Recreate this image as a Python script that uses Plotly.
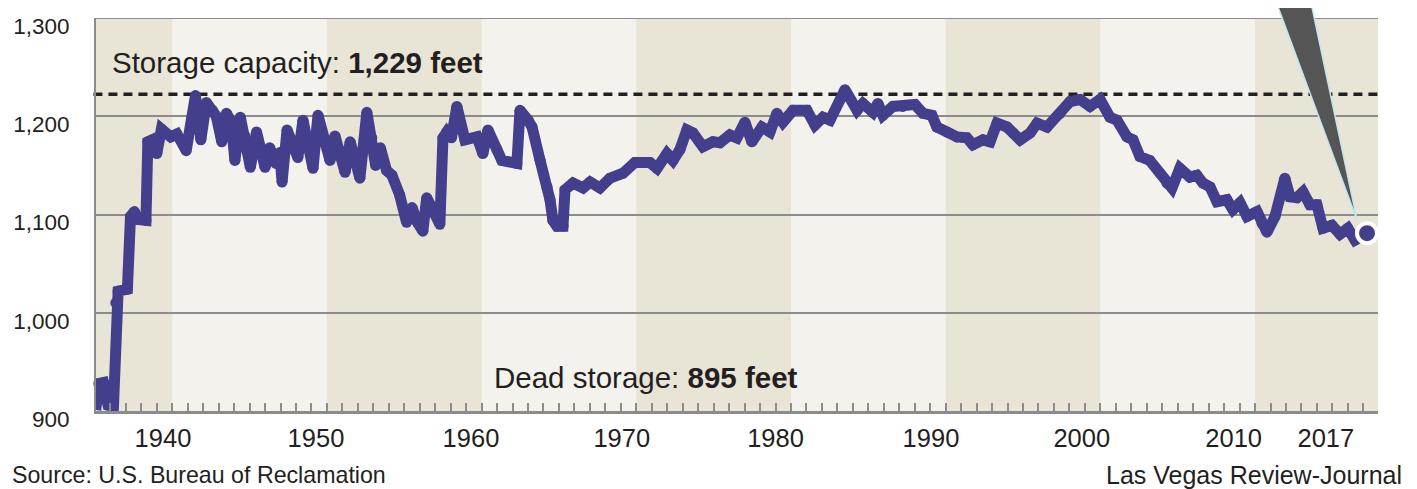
import plotly.graph_objects as go

# ---- data: Lake Mead elevation (feet) ----
years = [
    1935.05, 1935.25, 1935.55, 1935.85, 1936.20, 1936.35, 1936.50, 1937.10, 1937.30, 1937.55,
    1937.75, 1938.30, 1938.42, 1938.70, 1939.00, 1939.30, 1939.90, 1940.30, 1940.90, 1941.50,
    1941.85, 1942.20, 1942.60, 1942.85, 1943.20, 1943.50, 1943.80, 1944.05, 1944.40, 1944.70,
    1945.05, 1945.45, 1946.00, 1946.30, 1946.70, 1946.95, 1947.10, 1947.42, 1948.12, 1948.45,
    1949.10, 1949.42, 1950.20, 1950.52, 1951.17, 1951.50, 1952.13, 1952.58, 1952.90, 1953.15,
    1953.45, 1953.85, 1954.20, 1954.70, 1955.15, 1955.50, 1955.85, 1956.20, 1956.45, 1956.85,
    1957.30, 1957.50, 1957.75, 1958.05, 1958.40, 1958.92, 1959.70, 1960.08, 1960.41, 1960.99,
    1961.31, 1962.28, 1962.48, 1963.00, 1963.26, 1963.78, 1964.23, 1964.42, 1964.61, 1964.87,
    1965.26, 1965.39, 1965.91, 1966.56, 1967.01, 1967.65, 1968.30, 1969.14, 1969.91, 1970.88,
    1971.34, 1971.98, 1972.37, 1972.82, 1973.27, 1973.66, 1974.31, 1974.95, 1975.41, 1976.05,
    1976.50, 1977.02, 1977.47, 1978.12, 1978.64, 1979.09, 1979.48, 1980.13, 1981.03, 1981.55,
    1982.07, 1982.52, 1983.49, 1984.27, 1984.65, 1985.30, 1985.62, 1985.94, 1986.59, 1987.23,
    1988.01, 1988.53, 1989.11, 1989.43, 1990.08, 1990.73, 1991.37, 1991.76, 1992.41, 1992.87,
    1993.32, 1993.97, 1994.36, 1994.81, 1995.46, 1995.91, 1996.55, 1997.39, 1998.04, 1998.69,
    1999.33, 1999.98, 2000.62, 2001.07, 2001.72, 2002.11, 2002.56, 2003.20, 2003.85, 2004.30,
    2004.63, 2005.14, 2005.79, 2006.24, 2006.63, 2007.09, 2007.54, 2008.18, 2008.57, 2009.03,
    2009.48, 2010.13, 2010.45, 2010.77, 2011.29, 2011.93, 2012.26, 2012.71, 2013.10, 2013.55,
    2014.00, 2014.39, 2014.97, 2015.49, 2016.00, 2016.46, 2017.24,
]
levels = [
    901, 928, 929, 906, 905, 1010, 1022, 1024, 1098, 1103,
    1095, 1094, 1174, 1176, 1162, 1187, 1179, 1182, 1165, 1221,
    1176, 1214, 1206, 1200, 1174, 1203, 1195, 1155, 1199, 1180,
    1148, 1184, 1148, 1168, 1152, 1163, 1133, 1186, 1158, 1196,
    1147, 1201, 1155, 1180, 1143, 1174, 1137, 1204, 1178, 1150,
    1168, 1145, 1140, 1120, 1092, 1107, 1092, 1083, 1117, 1103,
    1090, 1178, 1184, 1178, 1210, 1176, 1179, 1162, 1186, 1166,
    1155, 1152, 1206, 1196, 1189, 1155, 1128, 1115, 1094, 1088,
    1088, 1125, 1132, 1127, 1133, 1127, 1137, 1142, 1153, 1153,
    1147, 1162, 1155, 1166, 1186, 1183, 1169, 1174, 1173, 1181,
    1178, 1194, 1174, 1189, 1184, 1203, 1194, 1206, 1206, 1191,
    1199, 1196, 1227, 1206, 1213, 1204, 1213, 1201, 1210, 1210,
    1212, 1203, 1201, 1189, 1184, 1179, 1178, 1171, 1176, 1174,
    1193, 1189, 1183, 1176, 1183, 1193, 1189, 1203, 1215, 1217,
    1210, 1217, 1199, 1196, 1179, 1176, 1159, 1155, 1142, 1132,
    1127, 1147, 1138, 1140, 1132, 1128, 1113, 1115, 1105, 1112,
    1098, 1103, 1091, 1082, 1098, 1137, 1118, 1117, 1123, 1110,
    1110, 1086, 1089, 1080, 1086, 1074, 1081,
]

y_tick_vals = [900, 1000, 1100, 1200, 1300]
y_tick_text = ["900", "1,000", "1,100", "1,200", "1,300"]
x_tick_text = ["1940", "1950", "1960", "1970", "1980", "1990", "2000", "2010", "2017"]
x_tick_pos = [1939.40, 1949.29, 1959.31, 1969.06, 1979.00, 1989.05, 1998.80, 2008.62, 2014.58]
dark_decades = [1930, 1950, 1970, 1990, 2010]
capacity_drawn_level = 1222.5   # where the dashed capacity line sits in the picture
capacity_label = "Storage capacity: <b>1,229 feet</b>"
dead_label = "Dead storage: <b>895 feet</b>"
source_text = "Source: U.S. Bureau of Reclamation"
credit_text = "Las Vegas Review-Journal"

X_RANGE = [1935.07, 2017.95]
Y_RANGE = [900, 1300]

# the page body keeps the browser's 8px margin, so the figure is laid out 8px smaller
PAGE_MARGIN = 8
FONT = "Liberation Sans, Arial, sans-serif"
INK = "#231f20"
LINE = "#433f8c"
GRID = "#8c8c8c"
BAND_DARK = "#e8e4d6"
BAND_LIGHT = "#f3f2ec"

fig = go.Figure()

fig.add_trace(go.Scatter(
    x=years, y=levels, mode="lines+markers",
    line=dict(color=LINE, width=11),
    marker=dict(color=LINE, size=11),
    cliponaxis=False, hoverinfo="skip", showlegend=False,
))
fig.add_trace(go.Scatter(
    x=[years[-1]], y=[levels[-1]], mode="markers",
    marker=dict(color=LINE, size=20, line=dict(color="white", width=4)),
    cliponaxis=False, hoverinfo="skip", showlegend=False,
))
# invisible carrier for the label axis
fig.add_trace(go.Scatter(
    x=x_tick_pos, y=[None] * len(x_tick_pos), xaxis="x2", mode="markers",
    hoverinfo="skip", showlegend=False,
))

shapes = []
for d in dark_decades:
    shapes.append(dict(type="rect", xref="x", yref="paper", x0=d, x1=d + 10, y0=0, y1=1,
                       fillcolor=BAND_DARK, line=dict(width=0), layer="below"))
# top frame line at the 1,300 level
shapes.append(dict(type="line", xref="paper", yref="y", x0=0, x1=1,
                   y0=Y_RANGE[1], y1=Y_RANGE[1], line=dict(color=GRID, width=2), layer="between"))
shapes.append(dict(type="line", xref="paper", yref="y", x0=-0.002, x1=1.002,
                   y0=capacity_drawn_level, y1=capacity_drawn_level,
                   line=dict(color=INK, width=3.5, dash="9px,6px"), layer="between"))
# call-out box (cut off at the top) and its pointer to the latest reading
shapes.append(dict(type="rect", xref="paper", yref="paper", x0=0.6295, x1=1.0094, y0=1.0432, y1=1.3,
                   fillcolor="white", line=dict(color="#bfe3ec", width=2), layer="above"))
tip_x = years[-1] - 0.65
tip_y = (levels[-1] - Y_RANGE[0]) / (Y_RANGE[1] - Y_RANGE[0]) + 0.034
shapes.append(dict(type="path", xref="x", yref="paper",
                   path=f"M 2011.0,1.08 L 2013.4,1.08 L {tip_x},{tip_y} Z",
                   fillcolor="#555555", line=dict(color="#c3e5ee", width=1.5), layer="above"))

annotations = [
    dict(xref="x", yref="y", x=1935.95, y=1255, text=capacity_label, showarrow=False,
         xanchor="left", yanchor="middle", font=dict(family=FONT, size=29.5, color=INK)),
    dict(xref="x", yref="y", x=1960.7, y=934, text=dead_label, showarrow=False,
         xanchor="left", yanchor="middle", font=dict(family=FONT, size=29.5, color=INK)),
    dict(xref="paper", yref="paper", x=-0.067, y=-0.163, text=source_text, showarrow=False,
         xanchor="left", yanchor="middle", font=dict(family=FONT, size=23.2, color=INK)),
    dict(xref="paper", yref="paper", x=1.0203, y=-0.163, text=credit_text, showarrow=False,
         xanchor="right", yanchor="middle", font=dict(family=FONT, size=25, color=INK)),
]

fig.update_layout(
    width=1417 - PAGE_MARGIN, height=489 - PAGE_MARGIN,
    margin=dict(l=96 - PAGE_MARGIN, r=39, t=18 - PAGE_MARGIN, b=78, autoexpand=False),
    paper_bgcolor="white", plot_bgcolor=BAND_LIGHT,
    shapes=shapes, annotations=annotations,
    xaxis=dict(range=X_RANGE, tickmode="linear", tick0=1935, dtick=1,
               ticks="inside", ticklen=8, tickwidth=1.5, tickcolor=GRID,
               showticklabels=False, showgrid=False, zeroline=False,
               showline=True, linecolor=GRID, linewidth=3, automargin=False),
    xaxis2=dict(range=X_RANGE, overlaying="x", anchor="y", side="bottom",
                tickmode="array", tickvals=x_tick_pos, ticktext=x_tick_text,
                ticks="", showgrid=False, zeroline=False, showline=False,
                ticklabelstandoff=9, automargin=False,
                tickfont=dict(family=FONT, size=25.5, color=INK)),
    yaxis=dict(range=Y_RANGE, tickmode="array", tickvals=y_tick_vals, ticktext=y_tick_text,
               ticks="", showgrid=True, gridcolor=GRID, gridwidth=2, zeroline=False,
               showline=True, linecolor=GRID, linewidth=2, automargin=False,
               ticklabelstandoff=20, ticklabelshift=8,
               tickfont=dict(family=FONT, size=22.5, color=INK)),
)

fig.write_html("out.html")
